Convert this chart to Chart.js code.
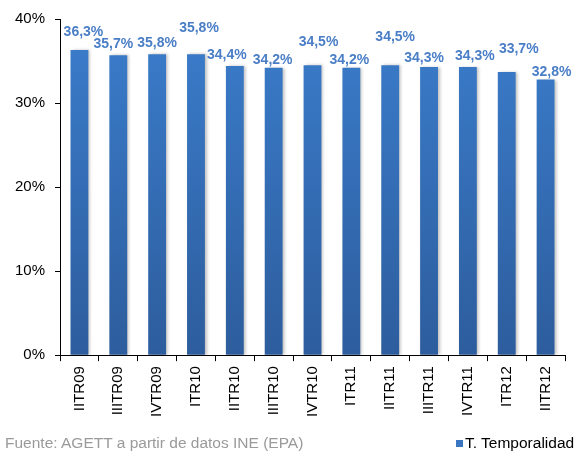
<!DOCTYPE html>
<html>
<head>
<meta charset="utf-8">
<script src="https://cdn.jsdelivr.net/npm/chart.js@4/dist/chart.umd.min.js"></script>
<style>
  html, body { margin: 0; padding: 0; background: #fff; }
  #wrap { position: relative; width: 582px; height: 459px; }
  #source {
    position: absolute; left: 5px; top: 434px;
    font: 15.5px "Liberation Sans", Arial, sans-serif; color: #9a9a9a;
  }
  #legend {
    position: absolute; left: 456px; top: 434px;
    font: 15.5px "Liberation Sans", Arial, sans-serif; color: #000;
  }
  #legend span {
    display: inline-block; width: 7px; height: 7px; background: #3a76c2;
    margin-right: 2px; vertical-align: 1px;
  }
</style>
</head>
<body>
<div id="wrap">
  <canvas id="chart" width="582" height="459"></canvas>
  <div id="source">Fuente: AGETT a partir de datos INE (EPA)</div>
  <div id="legend"><span></span>T. Temporalidad</div>
</div>
<script>
const categories = ["IITR09", "IIITR09", "IVTR09", "ITR10", "IITR10", "IIITR10", "IVTR10",
  "ITR11", "IITR11", "IIITR11", "IVTR11", "ITR12", "IITR12"];
const temporalidad = [36.3, 35.7, 35.8, 35.8, 34.4, 34.2, 34.5, 34.2, 34.5, 34.3, 34.3, 33.7, 32.8];
const yTicks = [0, 10, 20, 30, 40];

// label nudges (px) to mimic the original's staggered value labels
const labelLift = [18, 11, 11, 26, 11, 8, 23, 8, 28, 9, 11, 23, 7];
const labelDx = [4, -5, 0, 3, -8, -1, 6, -2, 5, -5, 7, 12, 6];

const valueLabels = {
  id: "valueLabels",
  afterDatasetsDraw(chart) {
    const ctx = chart.ctx;
    const meta = chart.getDatasetMeta(0);
    ctx.save();
    ctx.font = "bold 14px 'Liberation Sans', Arial, sans-serif";
    ctx.fillStyle = "#4a7ec6";
    ctx.textAlign = "center";
    ctx.textBaseline = "middle";
    meta.data.forEach((bar, i) => {
      const txt = temporalidad[i].toFixed(1).replace(".", ",") + "%";
      ctx.fillText(txt, bar.x + labelDx[i], bar.y - labelLift[i]);
    });
    ctx.restore();
  }
};

const barShadow = {
  id: "barShadow",
  beforeDatasetsDraw(chart) {
    const ctx = chart.ctx;
    ctx.save();
    ctx.shadowColor = "rgba(0,0,0,0.25)";
    ctx.shadowBlur = 3;
    ctx.shadowOffsetX = 2;
  },
  afterDatasetsDraw(chart) {
    chart.ctx.restore();
  }
};

const ctx = document.getElementById("chart").getContext("2d");
new Chart(ctx, {
  type: "bar",
  data: {
    labels: categories,
    datasets: [{
      label: "T. Temporalidad",
      data: temporalidad,
      backgroundColor: (c) => {
        const area = c.chart.chartArea;
        if (!area) return "#3572b8";
        const g = c.chart.ctx.createLinearGradient(0, area.top, 0, area.bottom);
        g.addColorStop(0, "#3b7dcc");
        g.addColorStop(1, "#2d5d9d");
        return g;
      },
      barPercentage: 0.46,
      categoryPercentage: 1.0
    }]
  },
  options: {
    responsive: false,
    animation: false,
    layout: { padding: { left: 5, right: 17, top: 9, bottom: 37 } },
    plugins: {
      legend: { display: false },
      tooltip: { enabled: false }
    },
    scales: {
      x: {
        grid: { drawOnChartArea: false, drawTicks: true, tickLength: 6, color: "#000", offset: true },
        border: { color: "#000", width: 1 },
        ticks: {
          color: "#000", minRotation: 90, maxRotation: 90, padding: 5,
          font: { family: "'Liberation Sans', Arial, sans-serif", size: 15 }
        }
      },
      y: {
        min: 0, max: 40,
        afterBuildTicks: (axis) => { axis.ticks = yTicks.map(v => ({ value: v })); },
        grid: { drawOnChartArea: false, drawTicks: true, tickLength: 5, color: "#000" },
        border: { color: "#000", width: 1 },
        ticks: {
          color: "#000", padding: 10,
          font: { family: "'Liberation Sans', Arial, sans-serif", size: 15 },
          callback: (v) => v + "%"
        }
      }
    }
  },
  plugins: [barShadow, valueLabels]
});
</script>
</body>
</html>
